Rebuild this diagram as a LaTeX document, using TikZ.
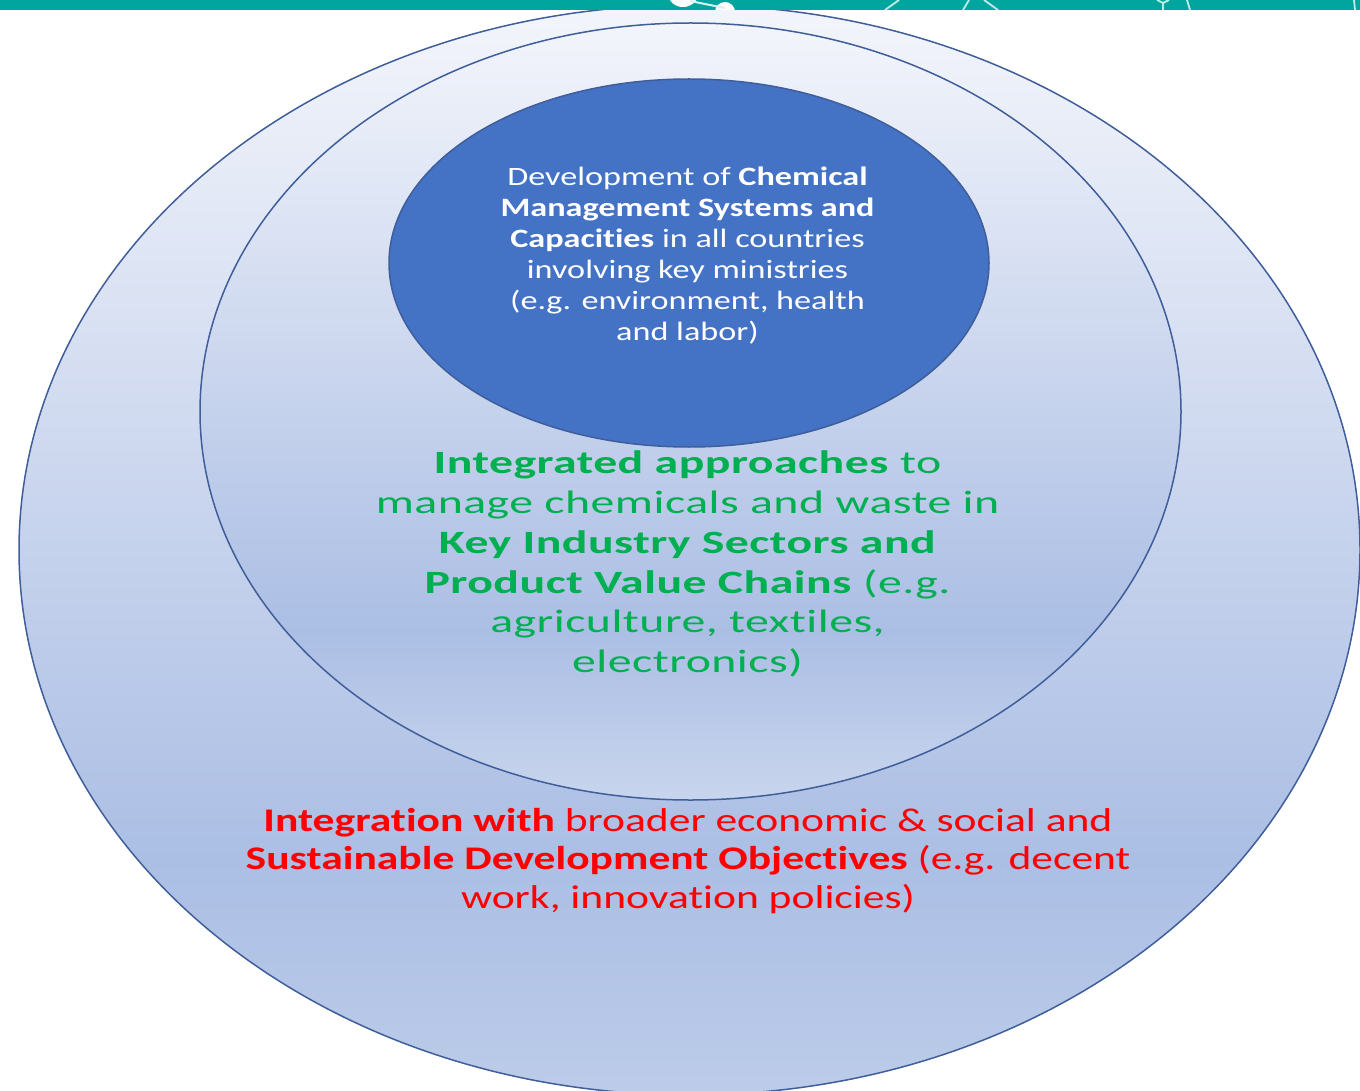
\documentclass[tikz,border=0pt]{standalone}
\usepackage{fontspec}
\setmainfont{Carlito}
\newfontfamily\innerfont[FakeStretch=1.29,RawFeature=-liga]{Carlito}
\newfontfamily\midfont[FakeStretch=1.47,LetterSpace=1.5,RawFeature=-liga]{Carlito}
\newfontfamily\outfont[FakeStretch=1.32,RawFeature=-liga]{Carlito}
\usetikzlibrary{shapes.geometric}
\definecolor{barteal}{HTML}{00A59D}
\definecolor{barline}{HTML}{BFEDE8}
\definecolor{ringline}{HTML}{3F5E9A}
\definecolor{coreblue}{HTML}{4472C4}
\definecolor{txtgreen}{HTML}{00B050}
\definecolor{txtred}{HTML}{FF0000}
\definecolor{shadeA}{HTML}{F3F5FB}
\definecolor{shadeB}{HTML}{BCCCE9}
\definecolor{shadeC}{HTML}{ABBEE4}
\definecolor{shadeD}{HTML}{C8D5ED}
\pgfdeclareverticalshading{outerfill}{100bp}{
  color(0bp)=(shadeB); color(25bp)=(shadeB); color(35.8bp)=(shadeC); color(75bp)=(shadeA); color(100bp)=(shadeA)}
\pgfdeclareverticalshading{midfill}{100bp}{
  color(0bp)=(shadeD); color(25bp)=(shadeD); color(35.8bp)=(shadeC); color(75bp)=(shadeA); color(100bp)=(shadeA)}
\tikzset{
  ring/.style={ellipse,draw=ringline,line width=1.5pt,inner sep=0pt,outer sep=0pt},
  blocktext/.style={align=center,inner sep=0pt,anchor=center},
}
\begin{document}
\begin{tikzpicture}[x=1pt,y=-1pt]
\useasboundingbox (0,0) rectangle (1360,1091);
\begin{scope}
\clip (0,0) rectangle (1360,1091);
\node[ring,minimum width=1341pt,minimum height=1090pt,shade,shading=outerfill] (outer) at (689.5,550) {};
\node[ring,minimum width=981pt,minimum height=777pt,shade,shading=midfill] (middle) at (690.5,411.5) {};
\node[ring,minimum width=600pt,minimum height=368pt,fill=coreblue] (core) at (689,263) {};
\fill[barteal] (0,0) rectangle (1360,10);
\begin{scope}
\clip (0,0) rectangle (1360,10);
\fill[white] (683,-4) ellipse (14 and 11) (725,12) circle (10);
\draw[white!85!barteal,line width=2pt] (690,1) -- (725,8);
\draw[barline,line width=1.8pt] (885,10) -- (899,0) (963,10) -- (969,0) (984,0) -- (998,10) (1157,0) -- (1163,3) -- (1169,0) (1163,3) -- (1163,10) (1187,0) -- (1190,10) (1354,0) -- (1355,10);
\end{scope}
\end{scope}
\node[blocktext,text=white,font=\innerfont\fontsize{26.5}{31}\selectfont] (coretext) at (687.5,256)
 {Development of \textbf{Chemical}\\\textbf{Management Systems and}\\\textbf{Capacities} in all countries\\involving key ministries\\(e.g. environment, health\\and labor)};
\node[blocktext,text=txtgreen,font=\midfont\fontsize{32.5}{39.8}\selectfont] (midtext) at (687.5,564)
 {\textbf{Integrated approaches} to\\manage chemicals and waste in\\\textbf{Key Industry Sectors and}\\\textbf{Product Value Chains} (e.g.\\agriculture, textiles,\\electronics)};
\node[blocktext,text=txtred,font=\outfont\fontsize{33}{38.5}\selectfont] (outtext) at (688,861)
 {\textbf{Integration with} broader economic \& social and\\\textbf{Sustainable Development Objectives} (e.g. decent\\work, innovation policies)};
\end{tikzpicture}
\end{document}
